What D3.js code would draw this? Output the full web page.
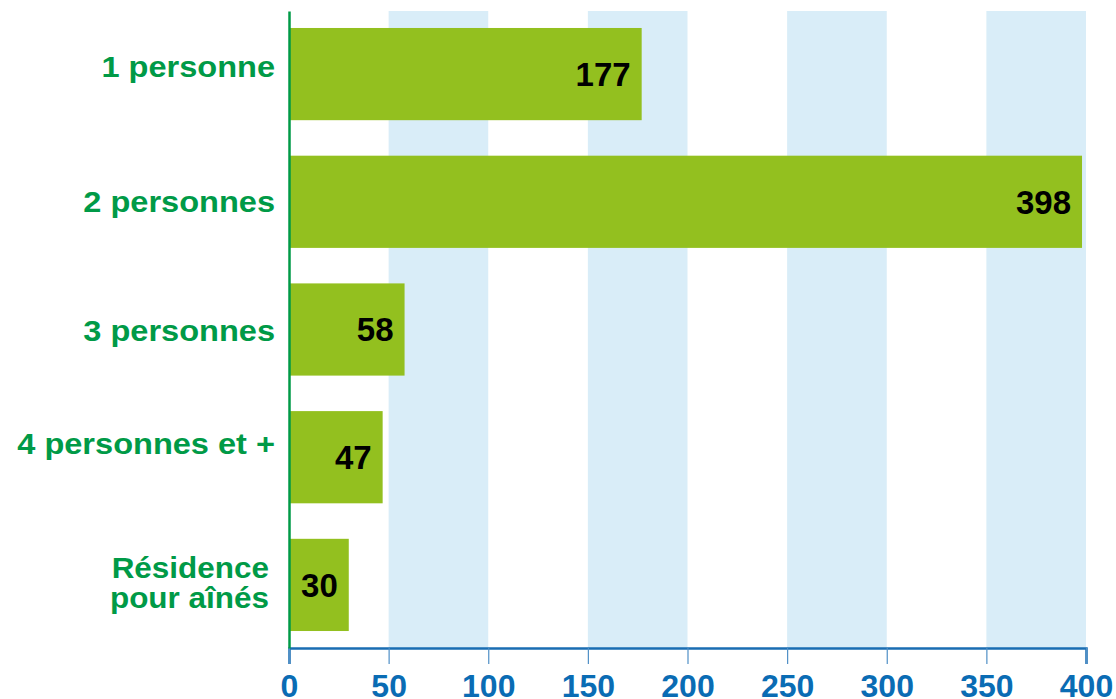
<!DOCTYPE html>
<html>
<head>
<meta charset="utf-8">
<script src="https://cdnjs.cloudflare.com/ajax/libs/d3/7.8.5/d3.min.js"></script>
<style>
  body { margin: 0; background: #fff; }
  svg { display: block; font-family: "Liberation Sans", Arial, Helvetica, sans-serif; font-weight: bold; }
</style>
</head>
<body>
<svg width="1116" height="699"></svg>
<script>
// household size categories and counts
var categories = ["1 personne", "2 personnes", "3 personnes", "4 personnes et +", "Résidence\npour aînés"];
var values = [177, 398, 58, 47, 30];
var tickValues = [0, 50, 100, 150, 200, 250, 300, 350, 400];
var bandStarts = [50, 150, 250, 350]; // shaded columns

var svg = d3.select("svg");
var margin = {top: 11, right: 30, bottom: 51, left: 289};
var width = +svg.attr("width") - margin.left - margin.right;
var height = +svg.attr("height") - margin.top - margin.bottom;

var g = svg.append("g")
    .attr("transform", "translate(" + margin.left + "," + margin.top + ")");

var x = d3.scaleLinear().domain([0, 400]).range([0, width]);
var y = d3.scaleBand().domain(categories).range([0, height])
    .paddingInner(0.278).paddingOuter(0.133);

// the labels in the original are set a bit wide and not quite centred
var stretch = 1.085;
var labelNudge = [-8, -1, 1, -14, 0];

// light blue stripes behind the bars
g.selectAll("rect.band")
    .data(bandStarts)
  .enter().append("rect")
    .attr("class", "band")
    .attr("x", function(d) { return x(d); })
    .attr("width", function(d) { return x(d + 50) - x(d); })
    .attr("y", 0)
    .attr("height", height)
    .attr("fill", "#d9edf8");

// bars
g.selectAll("rect.bar")
    .data(values)
  .enter().append("rect")
    .attr("class", "bar")
    .attr("x", x(0))
    .attr("y", function(d, i) { return y(categories[i]); })
    .attr("width", function(d) { return x(d); })
    .attr("height", y.bandwidth())
    .attr("fill", "#93c01f");

// value labels inside the bar end
g.selectAll("text.val")
    .data(values)
  .enter().append("text")
    .attr("class", "val")
    .attr("x", function(d) { return x(d) - 11; })
    .attr("y", function(d, i) { return y(categories[i]) + y.bandwidth() / 2; })
    .attr("dy", "0.36em")
    .attr("text-anchor", "end")
    .attr("font-size", 33)
    .attr("fill", "#000")
    .text(function(d) { return d; });

// bottom axis
var xAxis = g.append("g")
    .attr("transform", "translate(0," + height + ")")
    .call(d3.axisBottom(x).tickValues(tickValues).tickSize(16).tickPadding(10));
xAxis.select(".domain").attr("stroke", "#1a6db3").attr("stroke-width", 2.5);
xAxis.selectAll(".tick line").attr("stroke", "#4f8fc6").attr("stroke-width", 1.2);
xAxis.selectAll(".tick text")
    .attr("fill", "#0a6cb4")
    .attr("font-size", 32)
    .attr("font-weight", "bold")
    .attr("font-family", "'Liberation Sans', Arial, sans-serif");

// left axis with category labels
var yAxis = g.append("g")
    .call(d3.axisLeft(y).tickSize(0).tickPadding(14));
yAxis.select(".domain").attr("stroke", "#009a47").attr("stroke-width", 2.5);
yAxis.selectAll(".tick text")
    .attr("fill", "#009a47")
    .attr("font-size", 30)
    .attr("font-weight", "bold")
    .attr("font-family", "'Liberation Sans', Arial, sans-serif")
    .attr("x", -14 / stretch)
    .attr("transform", "scale(" + stretch + ",1)")
    .each(function(d, i) {
        var t = d3.select(this);
        var lines = d.split("\n");
        if (lines.length < 2) {
            t.attr("dy", null).attr("y", 10.8 + labelNudge[i]);
            return;
        }
        // two-line label sits a little further left and tighter
        t.text(null).attr("dy", null).attr("y", 0).attr("font-size", 29);
        lines.forEach(function(l, k) {
            t.append("tspan")
                .attr("x", -20 / stretch)
                .attr("y", k === 0 ? -7 : 23)
                .text(l);
        });
    });
</script>
</body>
</html>
